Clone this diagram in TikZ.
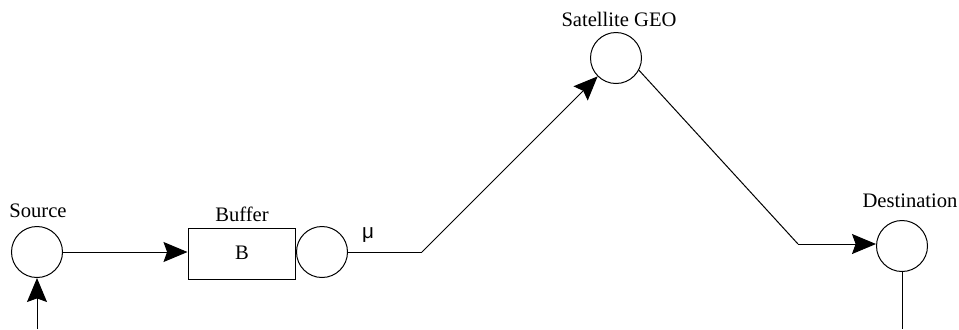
\documentclass[tikz,border=0pt]{standalone}
\usepackage{fontspec}
\setmainfont{Liberation Serif}
\newfontfamily\musf{Liberation Sans}
\usetikzlibrary{arrows.meta}
\begin{document}
\begin{tikzpicture}[x=0.5pt,y=-0.5pt,
  every node/.style={font=\fontsize{10.3}{12}\selectfont},
  circ/.style={draw,circle,minimum size=25.5pt,inner sep=0pt,line width=0.5pt},
  bufbox/.style={draw,rectangle,minimum width=53.5pt,minimum height=25.5pt,inner sep=0pt,line width=0.5pt},
  lbl/.style={inner sep=0pt,anchor=base},
  conn/.style={line width=0.5pt},
  arr/.style={conn,-{Stealth[length=12pt,width=10pt,inset=1.8pt]}}]
\useasboundingbox (0,0) rectangle (959,329);
% nodes
\node[circ] (src) at (37,252) {};
\node[bufbox] (buf) at (241.5,253.5) {};
\node[lbl] (bl) at (242,259) {B};
\node[circ] (srv) at (322,252) {};
\node[circ] (sat) at (616,58) {};
\node[circ] (dst) at (902,246) {};
% labels
\node[lbl] (srcl) at (38,217) {Source};
\node[lbl] (bufl) at (242,221) {Buffer};
\node[lbl] (satl) at (619,26) {Satellite GEO};
\node[lbl] (dstl) at (910,207) {Destination};
\node[lbl] (mu) at (368,238) {\musf μ};
% coordinates
\coordinate (srcin) at (37,329);
\coordinate (c1) at (422,252);
\coordinate (c2) at (798,244);
\coordinate (dstout) at (902,329);
% connectors
\draw[arr] (srcin) -- (src.south);
\draw[arr] (src.east) -- (src.east -| buf.west);
\draw[conn] (srv.east) -- (c1);
\draw[arr] (c1) -- (sat);
\draw[conn] (sat.-28) -- (c2);
\draw[arr] (c2) -- (c2 -| dst.west);
\draw[conn] (dst.south) -- (dstout);
\end{tikzpicture}
\end{document}
